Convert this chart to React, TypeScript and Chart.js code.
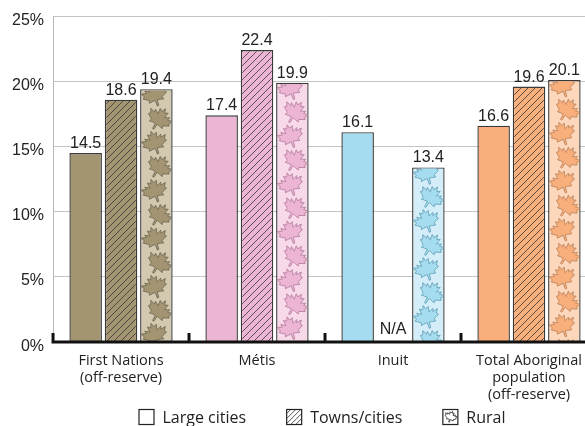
import React, { useEffect, useRef } from "react";
import { Chart, registerables } from "chart.js";
Chart.register(...registerables);

const categories: (string | string[])[] = [
  ["First Nations", "(off-reserve)"],
  "Métis",
  "Inuit",
  ["Total Aboriginal", "population", "(off-reserve)"],
];
const seriesNames = ["Large cities", "Towns/cities", "Rural"];
const largeCities = [14.5, 17.4, 16.1, 16.6];
const townsCities: (number | null)[] = [18.6, 22.4, null, 19.6];
const rural = [19.4, 19.9, 13.4, 20.1];
const yTicks = [0, 5, 10, 15, 20, 25];
const naLabel = "N/A";

const baseColors = ["#A39571", "#EDB5D4", "#A6DCEF", "#F9AF7B"];
const lightColors = ["#D3C9B1", "#F7D9E9", "#D3EEF8", "#FDD7BB"];
const leafStroke = ["#6E6550", "#B07A98", "#5E9CB5", "#B9805A"];

const LEAF: [number, number][] = [
  [0, -1], [0.12, -0.72], [0.32, -0.84], [0.26, -0.45], [0.58, -0.62], [0.52, -0.42],
  [0.88, -0.5], [0.72, -0.24], [0.84, -0.12], [0.46, 0.1], [0.52, 0.28], [0.08, 0.2],
  [0.05, 0.62], [-0.05, 0.62], [-0.08, 0.2], [-0.52, 0.28], [-0.46, 0.1], [-0.84, -0.12],
  [-0.72, -0.24], [-0.88, -0.5], [-0.52, -0.42], [-0.58, -0.62], [-0.26, -0.45],
  [-0.32, -0.84], [-0.12, -0.72],
];

function leafPath(ctx: CanvasRenderingContext2D, cx: number, cy: number, s: number, rot: number) {
  const c = Math.cos(rot), sn = Math.sin(rot);
  ctx.beginPath();
  LEAF.forEach((p, i) => {
    const x = cx + (p[0] * c - p[1] * sn) * s;
    const y = cy + (p[0] * sn + p[1] * c) * s;
    if (i === 0) ctx.moveTo(x, y); else ctx.lineTo(x, y);
  });
  ctx.closePath();
}

function makeHatch(bg: string) {
  const n = 7;
  const c = document.createElement("canvas");
  c.width = n; c.height = n;
  const g = c.getContext("2d")!;
  g.fillStyle = bg; g.fillRect(0, 0, n, n);
  g.strokeStyle = "#333"; g.lineWidth = 0.8;
  g.beginPath();
  g.moveTo(0, n); g.lineTo(n, 0);
  g.moveTo(-1, 1); g.lineTo(1, -1);
  g.moveTo(n - 1, n + 1); g.lineTo(n + 1, n - 1);
  g.stroke();
  return g.createPattern(c, "repeat")!;
}

function drawLegendIcon(g: CanvasRenderingContext2D, x0: number, y0: number, kind: number) {
  const s = 16;
  g.save();
  g.fillStyle = "#fff"; g.fillRect(x0, y0, s, s);
  if (kind === 1) {
    g.save(); g.beginPath(); g.rect(x0 + 1, y0 + 1, s - 2, s - 2); g.clip();
    g.strokeStyle = "#444"; g.lineWidth = 0.9;
    for (let k = -s; k < 2 * s; k += 5) { g.beginPath(); g.moveTo(x0 + k, y0 + s); g.lineTo(x0 + k + s, y0); g.stroke(); }
    g.restore();
  }
  if (kind === 2) {
    leafPath(g, x0 + s / 2, y0 + s / 2 + 1, 7, 0.3);
    g.strokeStyle = "#444"; g.lineWidth = 0.9; g.stroke();
  }
  g.strokeStyle = "#222"; g.lineWidth = 1.2;
  g.strokeRect(x0 + 0.5, y0 + 0.5, s - 1, s - 1);
  g.restore();
}

export default function App() {
  const ref = useRef<HTMLCanvasElement>(null);
  useEffect(() => {
    const canvas = ref.current!;
    const hatches = baseColors.map((c) => makeHatch(c));

    const leafPlugin = {
      id: "leaves",
      afterDatasetsDraw(chart: any) {
        const ctx = chart.ctx as CanvasRenderingContext2D;
        const meta = chart.getDatasetMeta(2);
        meta.data.forEach((bar: any, i: number) => {
          const { x, y, base, width } = bar.getProps(["x", "y", "base", "width"], true);
          ctx.save();
          ctx.beginPath();
          ctx.rect(x - width / 2 + 1.2, y + 1.2, width - 2.4, base - y - 1.2);
          ctx.clip();
          ctx.fillStyle = baseColors[i];
          ctx.strokeStyle = leafStroke[i];
          ctx.lineWidth = 0.8;
          for (let k = 0; y + (k - 1) * 24 < base; k++) {
            const cy = y + 8 + k * 24;
            const cx = x + (k % 2 ? 1.5 : -1);
            const rot = k % 2 ? 0.55 : -0.3;
            leafPath(ctx, cx, cy, 14.5, rot);
            ctx.fill(); ctx.stroke();
          }
          ctx.restore();
        });
      },
    };

    const axisPlugin = {
      id: "axisline",
      afterDatasetsDraw(chart: any) {
        const ctx = chart.ctx as CanvasRenderingContext2D;
        const { left, right, bottom } = chart.chartArea;
        const xs = chart.scales.x;
        const half = (xs.getPixelForValue(1) - xs.getPixelForValue(0)) / 2;
        ctx.save();
        ctx.strokeStyle = "#111";
        ctx.lineWidth = 3;
        ctx.beginPath();
        ctx.moveTo(left - 1.5, bottom);
        ctx.lineTo(right, bottom);
        categories.forEach((_, i) => {
          const bx = xs.getPixelForValue(i) - half;
          ctx.moveTo(bx, bottom);
          ctx.lineTo(bx, bottom - 9);
        });
        ctx.stroke();
        ctx.restore();
      },
    };

    const labelPlugin = {
      id: "vals",
      afterDatasetsDraw(chart: any) {
        const ctx = chart.ctx as CanvasRenderingContext2D;
        ctx.save();
        ctx.font = '16px "Liberation Sans", Arial, sans-serif';
        ctx.fillStyle = "#222";
        ctx.textAlign = "center";
        ctx.textBaseline = "alphabetic";
        chart.data.datasets.forEach((ds: any, di: number) => {
          const meta = chart.getDatasetMeta(di);
          meta.data.forEach((bar: any, i: number) => {
            const v = ds.data[i];
            const { x, y } = bar.getProps(["x", "y"], true);
            if (v == null) {
              ctx.fillText(naLabel, x, chart.chartArea.bottom - 8);
            } else {
              ctx.fillText(v.toFixed(1), x, y - 5);
            }
          });
        });
        ctx.restore();
      },
    };

    const legendPlugin = {
      id: "customLegend",
      afterDraw(chart: any) {
        const ctx = chart.ctx as CanvasRenderingContext2D;
        ctx.save();
        ctx.font = '16px "Open Sans", sans-serif';
        const gapBox = 8, gapItem = 40, box = 16;
        const widths = seriesNames.map((n) => box + gapBox + ctx.measureText(n).width);
        const total = widths.reduce((a, b) => a + b, 0) + gapItem * (seriesNames.length - 1);
        const { left, right } = chart.chartArea;
        let x = (left + right) / 2 - total / 2 - 3;
        const cy = 417;
        ctx.fillStyle = "#222";
        ctx.textBaseline = "middle";
        ctx.textAlign = "left";
        seriesNames.forEach((n, i) => {
          drawLegendIcon(ctx, x, cy - box / 2, i);
          ctx.fillStyle = "#222";
          ctx.fillText(n, x + box + gapBox, cy + 1);
          x += widths[i] + gapItem;
        });
        ctx.restore();
      },
    };

    const chart = new Chart(canvas, {
      type: "bar",
      data: {
        labels: categories,
        datasets: [
          { label: seriesNames[0], data: largeCities, backgroundColor: baseColors },
          { label: seriesNames[1], data: townsCities, backgroundColor: hatches },
          { label: seriesNames[2], data: rural, backgroundColor: lightColors },
        ],
      },
      options: {
        responsive: true,
        maintainAspectRatio: false,
        animation: false,
        layout: { padding: { left: 3, top: 4, right: 0, bottom: 13 } },
        datasets: {
          bar: {
            categoryPercentage: 0.78,
            barPercentage: 0.92,
            borderColor: "#3a3a3a",
            borderWidth: 1.4,
          },
        },
        scales: {
          x: {
            grid: { display: false, drawTicks: false },
            border: { display: false },
            ticks: {
              font: { family: "Open Sans", size: 14.5, lineHeight: 1.17 },
              color: "#222",
              padding: 10,
              maxRotation: 0,
              autoSkip: false,
            },
          },
          y: {
            min: 0,
            max: 25,
            afterBuildTicks: (axis: any) => {
              axis.ticks = yTicks.map((v) => ({ value: v }));
            },
            ticks: {
              callback: (v: any) => v + "%",
              padding: 9,
              labelOffset: 4,
              font: { family: "Liberation Sans", size: 16, lineHeight: 0.9 },
              color: "#222",
            },
            grid: { color: "#c4c4c4", drawTicks: false, lineWidth: 1 },
            border: { color: "#b8b8b8" },
          },
        },
        plugins: {
          tooltip: { enabled: false },
          legend: { display: false },
        },
      },
      plugins: [leafPlugin, axisPlugin, labelPlugin, legendPlugin],
    } as any);
    return () => chart.destroy();
  }, []);

  return (
    <div style={{ position: "fixed", left: 0, top: 0, width: 585, height: 426, overflow: "hidden", background: "#fff" }}>
      <div style={{ position: "relative", width: 597, height: 426 }}>
        <canvas ref={ref} />
      </div>
    </div>
  );
}
